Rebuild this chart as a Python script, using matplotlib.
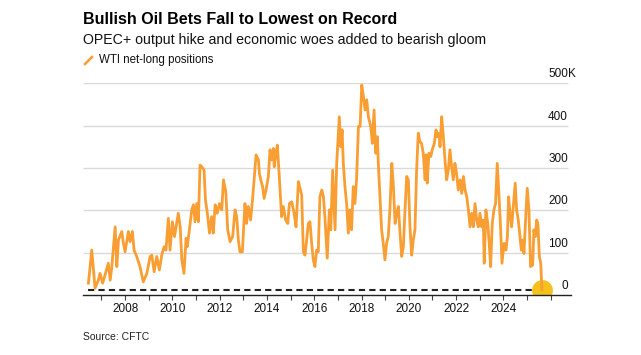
import matplotlib
matplotlib.use("Agg")
import matplotlib.pyplot as plt
from matplotlib.lines import Line2D

# --- WTI net-long positions (thousand contracts) ---
years = [
    2006.45, 2006.59, 2006.73, 2006.87, 2006.94, 2007.05, 2007.15, 2007.29, 2007.37, 2007.44,
    2007.58, 2007.65, 2007.72, 2007.86, 2007.93, 2008.00, 2008.14, 2008.21, 2008.31, 2008.38,
    2008.49, 2008.63, 2008.77, 2008.92, 2009.06, 2009.13, 2009.23, 2009.34, 2009.45, 2009.55,
    2009.65, 2009.73, 2009.83, 2009.90, 2010.00, 2010.09, 2010.25, 2010.33, 2010.40, 2010.49,
    2010.58, 2010.63, 2010.72, 2010.82, 2010.89, 2010.96, 2011.03, 2011.10, 2011.17, 2011.24,
    2011.34, 2011.40, 2011.48, 2011.57, 2011.66, 2011.73, 2011.81, 2011.90, 2011.99, 2012.09,
    2012.16, 2012.26, 2012.34, 2012.44, 2012.55, 2012.65, 2012.72, 2012.79, 2012.86, 2012.96,
    2013.07, 2013.14, 2013.21, 2013.31, 2013.40, 2013.54, 2013.64, 2013.68, 2013.74, 2013.82,
    2013.88, 2013.96, 2014.06, 2014.13, 2014.20, 2014.27, 2014.31, 2014.38, 2014.44, 2014.53,
    2014.62, 2014.69, 2014.79, 2014.88, 2014.95, 2015.05, 2015.15, 2015.23, 2015.33, 2015.40,
    2015.47, 2015.54, 2015.61, 2015.68, 2015.75, 2015.82, 2015.89, 2015.96, 2016.03, 2016.10,
    2016.17, 2016.24, 2016.32, 2016.39, 2016.46, 2016.55, 2016.64, 2016.70, 2016.78, 2016.88,
    2016.95, 2017.06, 2017.12, 2017.18, 2017.23, 2017.30, 2017.37, 2017.44, 2017.51, 2017.58,
    2017.65, 2017.72, 2017.79, 2017.87, 2017.94, 2018.01, 2018.08, 2018.15, 2018.22, 2018.29,
    2018.39, 2018.46, 2018.53, 2018.60, 2018.67, 2018.71, 2018.78, 2018.85, 2018.92, 2018.99,
    2019.06, 2019.13, 2019.20, 2019.28, 2019.35, 2019.42, 2019.49, 2019.56, 2019.63, 2019.70,
    2019.77, 2019.84, 2019.91, 2019.98, 2020.05, 2020.12, 2020.19, 2020.26, 2020.33, 2020.40,
    2020.47, 2020.54, 2020.61, 2020.69, 2020.73, 2020.78, 2020.85, 2020.93, 2020.99, 2021.08,
    2021.15, 2021.21, 2021.28, 2021.32, 2021.39, 2021.46, 2021.53, 2021.60, 2021.67, 2021.74,
    2021.81, 2021.88, 2021.95, 2022.02, 2022.09, 2022.17, 2022.24, 2022.31, 2022.38, 2022.45,
    2022.52, 2022.59, 2022.66, 2022.73, 2022.80, 2022.87, 2022.94, 2023.01, 2023.08, 2023.15,
    2023.19, 2023.26, 2023.34, 2023.40, 2023.46, 2023.53, 2023.60, 2023.67, 2023.74, 2023.81,
    2023.88, 2023.94, 2024.03, 2024.11, 2024.17, 2024.22, 2024.28, 2024.35, 2024.42, 2024.50,
    2024.56, 2024.63, 2024.70, 2024.76, 2024.81, 2024.87, 2024.96, 2025.01, 2025.08, 2025.15,
    2025.24, 2025.29, 2025.35, 2025.41, 2025.46, 2025.52, 2025.58, 2025.63,
]
net_long = [
    28, 106, 16, 35, 51, 28, 47, 75, 35, 67,
    161, 67, 130, 150, 122, 102, 150, 126, 150, 106,
    91, 67, 31, 51, 91, 94, 55, 91, 59, 94,
    114, 106, 181, 106, 173, 138, 193, 161, 83, 51,
    134, 114, 154, 201, 213, 173, 216, 173, 307, 303,
    295, 224, 193, 146, 185, 146, 213, 193, 216, 201,
    272, 244, 154, 126, 138, 201, 185, 130, 102, 102,
    216, 169, 209, 177, 232, 331, 319, 287, 272, 255,
    228, 248, 280, 343, 319, 346, 303, 335, 354, 272,
    185, 209, 177, 169, 216, 220, 193, 161, 268, 252,
    236, 102, 94, 130, 169, 173, 122, 83, 67, 106,
    102, 232, 248, 232, 177, 87, 201, 154, 295, 154,
    311, 421, 350, 390, 311, 256, 216, 146, 201, 154,
    256, 216, 272, 398, 398, 496, 469, 437, 461, 421,
    398, 358, 437, 335, 374, 311, 232, 154, 122, 83,
    122, 138, 201, 311, 256, 169, 193, 209, 146, 91,
    114, 201, 280, 272, 161, 94, 130, 154, 295, 382,
    362, 358, 335, 272, 331, 264, 335, 327, 343, 358,
    390, 374, 382, 350, 421, 374, 319, 272, 295, 343,
    303, 272, 311, 287, 248, 272, 240, 280, 248, 232,
    201, 161, 193, 161, 216, 177, 161, 193, 161, 177,
    75, 201, 169, 122, 67, 169, 201, 216, 311, 240,
    161, 75, 122, 106, 138, 232, 193, 161, 209, 264,
    201, 177, 138, 106, 130, 98, 201, 252, 201, 67,
    71, 154, 138, 177, 169, 91, 75, 12,
]

x_ticks = [2008, 2010, 2012, 2014, 2016, 2018, 2020, 2022, 2024]
y_ticks = [0, 100, 200, 300, 400, 500]

title = "Bullish Oil Bets Fall to Lowest on Record"
subtitle = "OPEC+ output hike and economic woes added to bearish gloom"
legend_label = "WTI net-long positions"
source = "Source: CFTC"

LINE = "#F89E32"
DOT = "#F5C21B"
GRID = "#DADADA"

plt.rcParams["font.family"] = ["Liberation Sans", "DejaVu Sans"]

W, H = 641, 355
fig = plt.figure(figsize=(W / 100, H / 100), dpi=100)
ax = fig.add_axes([83 / W, 1 - 295 / H, (571 - 83) / W, (295 - 83.3) / H])

x_left, x_right = 2006.22, 2026.86
ax.set_xlim(x_left, x_right)
ax.set_ylim(0, 500)

# gridlines + right-side labels sitting above them
grid_end = 2026.73
for v in y_ticks[1:]:
    ax.hlines(v, x_left, grid_end, color=GRID, lw=1.0, zorder=1)
for v in y_ticks:
    ax.text(grid_end, v + 21, str(v), ha="right", va="center", fontsize=8.5,
            color="#111111", zorder=5)
ax.text(grid_end, y_ticks[-1] + 21, "K", ha="left", va="center", fontsize=8.5,
        color="#111111", zorder=5)

# dashed line at latest value
ax.hlines(net_long[-1], years[0], years[-1], colors="#222222", lw=1.5,
          linestyles=(0, (3, 2)), zorder=2)

ax.plot(years, net_long, color=LINE, lw=2.0, zorder=3, solid_joinstyle="round")
ax.plot([years[-1]], [net_long[-1]], "o", ms=15, color=DOT, zorder=2.5,
        markeredgewidth=0)

# axes styling
for s in ["top", "right", "left"]:
    ax.spines[s].set_visible(False)
ax.spines["bottom"].set_color("#222222")
ax.spines["bottom"].set_linewidth(1.0)
ax.set_yticks([])
ax.set_xticks(x_ticks)
ax.set_xticklabels([str(t) for t in x_ticks], fontsize=8.5, color="#111111")
ax.set_xticks(list(range(2007, 2027)), minor=True)
ax.tick_params(axis="x", which="both", length=3.5, width=0.8, color="#444444", pad=2)

# header
fig.text(83 / W, 1 - 20 / H, title, fontsize=11.5, fontweight="bold",
         va="center", ha="left", color="#000000")
fig.text(83 / W, 1 - 40 / H, subtitle, fontsize=10.2, va="center", ha="left",
         color="#111111")
fig.add_artist(Line2D([85 / W, 92 / W], [1 - 64 / H, 1 - 57 / H], color=LINE,
                      lw=1.8, transform=fig.transFigure))
fig.text(99 / W, 1 - 60 / H, legend_label, fontsize=8.3, va="center", ha="left",
         color="#111111")
fig.text(83 / W, 1 - 337 / H, source, fontsize=7.5, va="center", ha="left",
         color="#222222")

fig.savefig("out.png", dpi=100, facecolor="white")
